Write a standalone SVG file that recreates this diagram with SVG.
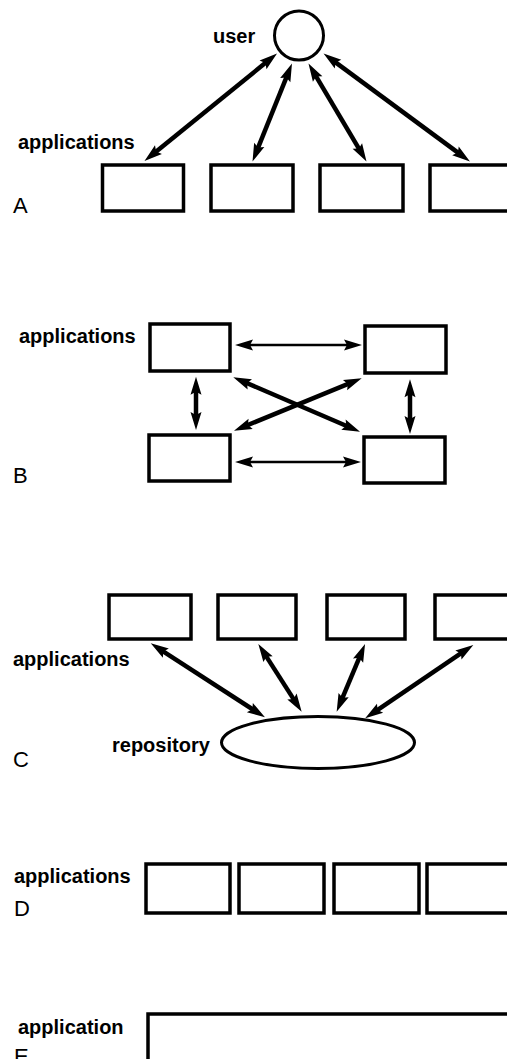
<svg xmlns="http://www.w3.org/2000/svg" width="507" height="1059" viewBox="0 0 507 1059">
  <defs>
    <style>
      .box { fill: #fff; stroke: #000; stroke-width: 3.5; }
      .lbl { font-family: "Liberation Sans", Arial, sans-serif; font-size: 20px; font-weight: bold; fill: #000; }
      .tag { font-family: "Liberation Sans", Arial, sans-serif; font-size: 22px; fill: #000; }
      .thick { stroke: #000; stroke-width: 4.5; fill: none; marker-start: url(#head); marker-end: url(#head); }
      .thin { stroke: #000; stroke-width: 2.5; fill: none; marker-start: url(#head); marker-end: url(#head); }
    </style>
    <!-- shared double-ended arrowhead, fixed size in user units -->
    <marker id="head" viewBox="-19 -6 20 12" markerWidth="20" markerHeight="12" refX="-12" refY="0" orient="auto-start-reverse" markerUnits="userSpaceOnUse">
      <path d="M0,0 L-18,-5.5 L-15,0 L-18,5.5 Z" fill="#000"/>
    </marker>
  </defs>
  <rect width="507" height="1059" fill="#fff"/>

  <!-- A: user connected to each application -->
  <g id="a-user">
    <circle cx="299" cy="35.5" r="24.5" fill="#fff" stroke="#000" stroke-width="3"/>
    <text class="lbl" x="213" y="42.5">user</text>
  </g>
  <g id="a-app1"><rect class="box" x="102.5" y="165" width="81" height="46"/></g>
  <g id="a-app2"><rect class="box" x="211" y="165" width="82" height="46"/></g>
  <g id="a-app3"><rect class="box" x="320" y="165" width="83" height="46"/></g>
  <g id="a-app4"><rect class="box" x="430" y="165" width="100" height="46"/></g>
  <text class="lbl" x="18" y="148.5">applications</text>
  <text class="tag" x="13" y="213">A</text>

  <!-- B: applications connected pairwise -->
  <g id="b-app1"><rect class="box" x="150" y="324" width="80" height="47"/></g>
  <g id="b-app2"><rect class="box" x="365" y="326" width="81" height="47"/></g>
  <g id="b-app3"><rect class="box" x="149" y="435" width="81" height="46"/></g>
  <g id="b-app4"><rect class="box" x="364" y="437" width="81" height="46"/></g>
  <text class="lbl" x="19" y="343">applications</text>
  <text class="tag" x="13" y="483">B</text>

  <!-- C: applications sharing a repository -->
  <g id="c-app1"><rect class="box" x="109" y="595" width="82" height="44"/></g>
  <g id="c-app2"><rect class="box" x="218" y="595" width="78" height="44"/></g>
  <g id="c-app3"><rect class="box" x="327" y="595" width="78" height="44"/></g>
  <g id="c-app4"><rect class="box" x="435" y="595" width="100" height="44"/></g>
  <g id="c-repository">
    <ellipse cx="318" cy="742.5" rx="96.5" ry="26" fill="#fff" stroke="#000" stroke-width="3"/>
    <text class="lbl" x="112" y="752">repository</text>
  </g>
  <text class="lbl" x="13" y="666">applications</text>
  <text class="tag" x="13" y="767">C</text>

  <!-- D: adjoining applications -->
  <g id="d-app1"><rect class="box" x="146" y="864" width="84" height="49"/></g>
  <g id="d-app2"><rect class="box" x="239" y="864" width="85" height="49"/></g>
  <g id="d-app3"><rect class="box" x="334" y="864" width="85" height="49"/></g>
  <g id="d-app4"><rect class="box" x="427" y="864" width="100" height="49"/></g>
  <text class="lbl" x="14" y="883">applications</text>
  <text class="tag" x="14" y="916">D</text>

  <!-- E: single application -->
  <g id="e-app"><rect class="box" x="148" y="1014" width="400" height="100" stroke-width="4"/></g>
  <text class="lbl" x="18" y="1034">application</text>
  <text class="tag" x="14" y="1064">E</text>

  <!-- connectors -->
  <g id="connectors">
    <line class="thick" x1="153.8" y1="153.4" x2="267.7" y2="61.1"/>
    <line class="thick" x1="257.0" y1="150.4" x2="287.5" y2="74.6"/>
    <line class="thick" x1="360.4" y1="151.2" x2="314.6" y2="73.8"/>
    <line class="thick" x1="460.3" y1="154.4" x2="333.2" y2="60.6"/>

    <line class="thin" x1="247" y1="345" x2="350" y2="345"/>
    <line class="thin" x1="247" y1="462" x2="349" y2="462"/>
    <line class="thick" x1="196" y1="388.7" x2="196" y2="418"/>
    <line class="thick" x1="410" y1="391.3" x2="410" y2="422"/>
    <line class="thick" x1="244.3" y1="382.0" x2="349.0" y2="427.0"/>
    <line class="thick" x1="350.6" y1="382.9" x2="245.1" y2="426.1"/>

    <line class="thick" x1="160.8" y1="649.8" x2="254.9" y2="710.8"/>
    <line class="thick" x1="264.8" y1="654.1" x2="295.2" y2="701.6"/>
    <line class="thick" x1="360.4" y1="655.1" x2="341.3" y2="700.6"/>
    <line class="thick" x1="463.4" y1="651.7" x2="375.1" y2="711.6"/>
  </g>
</svg>
